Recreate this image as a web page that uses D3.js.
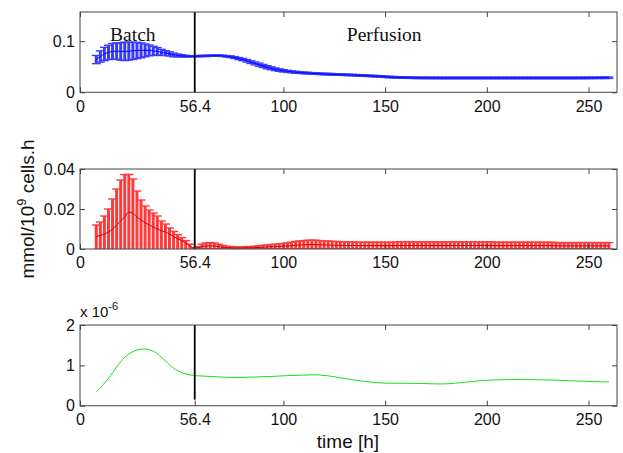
<!DOCTYPE html>
<html><head><meta charset="utf-8">
<script src="https://cdn.jsdelivr.net/npm/d3@7/dist/d3.min.js"></script>
<style>body{margin:0;background:#fff}svg{display:block}</style>
</head><body><svg id="c" width="623" height="453"></svg>
<script>
// ---- data (time in h) ----
const time = [
  8,10,12,14,16,18,20,22,24,26,
  28,30,32,34,36,38,40,42,44,46,
  48,50,52,54,56,58,60,62,64,66,
  68,70,72,74,76,78,80,82,84,86,
  88,90,92,94,96,98,100,102,104,106,
  108,110,112,114,116,118,120,122,124,126,
  128,130,132,134,136,138,140,142,144,146,
  148,150,152,154,156,158,160,162,164,166,
  168,170,172,174,176,178,180,182,184,186,
  188,190,192,194,196,198,200,202,204,206,
  208,210,212,214,216,218,220,222,224,226,
  228,230,232,234,236,238,240,242,244,246,
  248,250,252,254,256,258,260];
const blueMean = [
  0.064,0.070,0.075,0.078,0.080,0.0805,0.080,0.080,0.0805,0.081,
  0.0818,0.082,0.082,0.082,0.081,0.080,0.078,0.0767,0.075,0.073,
  0.072,0.0712,0.0707,0.0705,0.0705,0.0707,0.071,0.0712,0.0715,0.0717,
  0.0717,0.0713,0.0705,0.0695,0.068,0.066,0.064,0.0615,0.059,0.0565,
  0.054,0.0515,0.049,0.047,0.045,0.0435,0.042,0.041,0.040,0.0393,
  0.0386,0.038,0.0375,0.037,0.0366,0.0362,0.0358,0.0355,0.0352,0.0349,
  0.0346,0.0343,0.034,0.0337,0.0333,0.033,0.0326,0.0322,0.0318,0.0314,
  0.031,0.0304,0.0299,0.0295,0.0292,0.029,0.0288,0.0286,0.0284,0.0283,
  0.0282,0.0282,0.0281,0.0281,0.0281,0.028,0.028,0.028,0.028,0.028,
  0.028,0.028,0.028,0.028,0.028,0.028,0.028,0.028,0.028,0.028,
  0.028,0.028,0.028,0.028,0.028,0.028,0.028,0.028,0.028,0.028,
  0.028,0.028,0.028,0.028,0.028,0.028,0.028,0.028,0.0281,0.0281,
  0.0281,0.0282,0.0282,0.0283,0.0283,0.0284,0.0285];
const blueErr = [
  0.008,0.011,0.013,0.014,0.0155,0.016,0.017,0.018,0.0175,0.0168,
  0.0158,0.0145,0.0125,0.0105,0.009,0.0073,0.006,0.0046,0.004,0.0035,
  0.0028,0.0022,0.0016,0.0011,0.001,0.0011,0.0012,0.0012,0.0012,0.0012,
  0.0012,0.0013,0.0014,0.0016,0.0018,0.002,0.0022,0.0024,0.0026,0.0028,
  0.003,0.003,0.003,0.0028,0.0026,0.0024,0.0022,0.002,0.0019,0.0018,
  0.0017,0.0016,0.0016,0.0015,0.0015,0.0015,0.0015,0.0015,0.0015,0.0015,
  0.0014,0.0014,0.0014,0.0014,0.0014,0.0014,0.0014,0.0014,0.0014,0.0014,
  0.0014,0.0014,0.0014,0.0014,0.0014,0.0014,0.0014,0.0014,0.0014,0.0014,
  0.0014,0.0014,0.0014,0.0014,0.0014,0.0014,0.0014,0.0014,0.0014,0.0014,
  0.0014,0.0014,0.0014,0.0014,0.0014,0.0014,0.0014,0.0014,0.0014,0.0014,
  0.0014,0.0014,0.0014,0.0014,0.0014,0.0014,0.0014,0.0014,0.0014,0.0014,
  0.0014,0.0014,0.0014,0.0014,0.0014,0.0014,0.0014,0.0014,0.0014,0.0014,
  0.0014,0.0014,0.0014,0.0014,0.0014,0.0014,0.0014];
const redMean = [
  0.0062,0.0068,0.0075,0.0085,0.0098,0.012,0.014,0.016,0.0185,0.0178,
  0.016,0.0145,0.0132,0.012,0.011,0.010,0.0092,0.0085,0.0075,0.0062,
  0.0052,0.0042,0.003,0.0017,0.0004,0.0006,0.0012,0.0015,0.0016,0.0015,
  0.0012,0.0009,0.0007,0.0006,0.0005,0.0005,0.0005,0.0006,0.0006,0.0007,
  0.0008,0.0009,0.001,0.0011,0.0012,0.0013,0.0014,0.0015,0.0017,0.0019,
  0.002,0.0021,0.0022,0.0022,0.0022,0.0021,0.002,0.002,0.0019,0.0019,
  0.0018,0.0018,0.0018,0.0018,0.0017,0.0017,0.0017,0.0017,0.0017,0.0017,
  0.0017,0.0017,0.0017,0.0017,0.0018,0.0018,0.0018,0.0018,0.0018,0.0018,
  0.0018,0.0018,0.0018,0.0018,0.0018,0.0018,0.0018,0.0018,0.0018,0.0018,
  0.0018,0.0018,0.0018,0.0018,0.0018,0.0018,0.0018,0.0018,0.0017,0.0017,
  0.0017,0.0017,0.0017,0.0017,0.0017,0.0017,0.0017,0.0017,0.0017,0.0017,
  0.0017,0.0017,0.0017,0.0016,0.0016,0.0016,0.0016,0.0016,0.0016,0.0016,
  0.0016,0.0016,0.0016,0.0016,0.0016,0.0016,0.0016];
// upper error of the red series
const redErrUp = [
  0.0058,0.0067,0.009,0.0115,0.0152,0.018,0.0205,0.0212,0.0188,0.0172,
  0.013,0.010,0.0083,0.0075,0.007,0.0065,0.0048,0.004,0.003,0.0026,
  0.002,0.0015,0.0012,0.0007,0.0002,0.0006,0.0012,0.0015,0.0016,0.0015,
  0.0012,0.0009,0.0007,0.0006,0.0005,0.0005,0.0005,0.0006,0.0006,0.0007,
  0.0008,0.0009,0.001,0.0011,0.0012,0.0013,0.0014,0.0015,0.0017,0.0019,
  0.002,0.0021,0.0022,0.0022,0.0022,0.0021,0.002,0.002,0.0019,0.0019,
  0.0018,0.0018,0.0018,0.0018,0.0017,0.0017,0.0017,0.0017,0.0017,0.0017,
  0.0017,0.0017,0.0017,0.0017,0.0018,0.0018,0.0018,0.0018,0.0018,0.0018,
  0.0018,0.0018,0.0018,0.0018,0.0018,0.0018,0.0018,0.0018,0.0018,0.0018,
  0.0018,0.0018,0.0018,0.0018,0.0018,0.0018,0.0018,0.0018,0.0017,0.0017,
  0.0017,0.0017,0.0017,0.0017,0.0017,0.0017,0.0017,0.0017,0.0017,0.0017,
  0.0017,0.0017,0.0017,0.0016,0.0016,0.0016,0.0016,0.0016,0.0016,0.0016,
  0.0016,0.0016,0.0016,0.0016,0.0016,0.0016,0.0016];
// lower error of the red series (bars reach the baseline)
const redErrLow = [
  0.0065,0.007,0.008,0.009,0.010,0.0125,0.0145,0.0165,0.019,0.0183,
  0.0165,0.015,0.0137,0.0125,0.0115,0.0105,0.0097,0.009,0.008,0.0067,
  0.0057,0.0047,0.0035,0.0022,0.0005,0.0006,0.0012,0.0015,0.0016,0.0015,
  0.0012,0.0009,0.0007,0.0006,0.0005,0.0005,0.0005,0.0006,0.0006,0.0007,
  0.0008,0.0009,0.001,0.0011,0.0012,0.0013,0.0014,0.0015,0.0017,0.0019,
  0.002,0.0021,0.0022,0.0022,0.0022,0.0021,0.002,0.002,0.0019,0.0019,
  0.0018,0.0018,0.0018,0.0018,0.0017,0.0017,0.0017,0.0017,0.0017,0.0017,
  0.0017,0.0017,0.0017,0.0017,0.0018,0.0018,0.0018,0.0018,0.0018,0.0018,
  0.0018,0.0018,0.0018,0.0018,0.0018,0.0018,0.0018,0.0018,0.0018,0.0018,
  0.0018,0.0018,0.0018,0.0018,0.0018,0.0018,0.0018,0.0018,0.0017,0.0017,
  0.0017,0.0017,0.0017,0.0017,0.0017,0.0017,0.0017,0.0017,0.0017,0.0017,
  0.0017,0.0017,0.0017,0.0016,0.0016,0.0016,0.0016,0.0016,0.0016,0.0016,
  0.0016,0.0016,0.0016,0.0016,0.0016,0.0016,0.0016];
// green series in units of 1e-6
const greenMean = [
  0.34,0.44,0.56,0.68,0.82,0.96,1.09,1.20,1.28,1.34,
  1.38,1.40,1.405,1.39,1.35,1.29,1.20,1.11,1.01,0.93,
  0.87,0.82,0.785,0.765,0.75,0.74,0.735,0.73,0.725,0.72,
  0.715,0.71,0.705,0.70,0.70,0.70,0.70,0.705,0.71,0.71,
  0.715,0.72,0.72,0.725,0.73,0.735,0.74,0.745,0.75,0.75,
  0.755,0.76,0.76,0.765,0.765,0.76,0.75,0.74,0.725,0.71,
  0.69,0.675,0.66,0.645,0.63,0.615,0.60,0.59,0.58,0.57,
  0.565,0.56,0.558,0.557,0.556,0.555,0.555,0.554,0.553,0.552,
  0.55,0.548,0.545,0.542,0.54,0.54,0.542,0.548,0.555,0.565,
  0.575,0.585,0.595,0.605,0.615,0.622,0.628,0.634,0.638,0.642,
  0.645,0.647,0.648,0.648,0.648,0.647,0.646,0.645,0.644,0.642,
  0.64,0.638,0.635,0.632,0.629,0.625,0.62,0.616,0.612,0.608,
  0.605,0.602,0.599,0.596,0.594,0.592,0.59];
const xTicks = [0, 56.4, 100, 150, 200, 250];
const xTickLabels = ["0", "56.4", "100", "150", "200", "250"];
const phaseSwitch = 56.4;
const yTicks1 = [0, 0.1], yLabels1 = ["0", "0.1"];
const yTicks2 = [0, 0.02, 0.04], yLabels2 = ["0", "0.02", "0.04"];
const yTicks3 = [0, 1, 2], yLabels3 = ["0", "1", "2"];

// ---- drawing ----
const svg = d3.select("#c");
svg.append("rect").attr("width",623).attr("height",453).attr("fill","#fff");
const x = d3.scaleLinear().domain([0, 264]).range([80, 617]);
const FONT = "'Liberation Sans', Arial, Helvetica, sans-serif";
const SERIF = "'Liberation Serif', 'Times New Roman', serif";

const panels = [
  {top:12, bottom:92.3, dom:[0,0.157], ticks:yTicks1, labels:yLabels1, mean:blueMean, eUp:blueErr, eLo:blueErr,
   barColor:"#1a1aff", barW:3, barOp:0.85, lineColor:"#0000ff", vlo:0},
  {top:169, bottom:249, dom:[0,0.04], ticks:yTicks2, labels:yLabels2, mean:redMean, eUp:redErrUp, eLo:redErrLow,
   barColor:"#ff1010", barW:3, barOp:0.82, lineColor:"#d00000", vlo:0},
  {top:325, bottom:405.7, dom:[0,2], ticks:yTicks3, labels:yLabels3, mean:greenMean, eUp:null, eLo:null,
   lineColor:"#10e010", vlo:0.15}
];

panels.forEach((p, i) => {
  const y = d3.scaleLinear().domain(p.dom).range([p.bottom, p.top]);
  const g = svg.append("g");
  const cid = "clip" + i;
  svg.append("clipPath").attr("id", cid).append("rect")
    .attr("x", 80).attr("y", p.top).attr("width", 617 - 80).attr("height", p.bottom - p.top);
  const data = time.map((t, k) => ({t, m: p.mean[k], u: p.eUp ? p.eUp[k] : 0, l: p.eLo ? p.eLo[k] : 0}));
  const plot = g.append("g").attr("clip-path", `url(#${cid})`);
  if (p.eUp) {
    const eb = plot.append("g").attr("stroke", p.barColor).attr("opacity", p.barOp);
    eb.selectAll("line.v").data(data).join("line").attr("class","v")
      .attr("stroke-width", p.barW)
      .attr("x1", d => x(d.t)).attr("x2", d => x(d.t))
      .attr("y1", d => y(d.m - d.l)).attr("y2", d => y(d.m + d.u));
    eb.selectAll("line.cu").data(data).join("line").attr("class","cu")
      .attr("stroke-width", 1.4)
      .attr("x1", d => x(d.t) - 4.5).attr("x2", d => x(d.t) + 4.5)
      .attr("y1", d => y(d.m + d.u)).attr("y2", d => y(d.m + d.u));
    eb.selectAll("line.cl").data(data).join("line").attr("class","cl")
      .attr("stroke-width", 1.4)
      .attr("x1", d => x(d.t) - 4.5).attr("x2", d => x(d.t) + 4.5)
      .attr("y1", d => y(d.m - d.l)).attr("y2", d => y(d.m - d.l));
  }
  plot.append("path").datum(data)
    .attr("fill", "none").attr("stroke", p.lineColor).attr("stroke-width", 1)
    .attr("d", d3.line().x(d => x(d.t)).y(d => y(d.m)).curve(d3.curveMonotoneX));

  // vertical phase line
  g.append("line").attr("x1", x(phaseSwitch)).attr("x2", x(phaseSwitch))
    .attr("y1", y(p.vlo)).attr("y2", p.top)
    .attr("stroke", "#000").attr("stroke-width", 1.8);

  // axes
  const ax = (gen, tr) => {
    const a = g.append("g").attr("transform", tr).call(gen);
    a.select(".domain").remove();
    a.selectAll("line").attr("stroke", "#444");
    a.selectAll("text").attr("font-family", FONT).attr("font-size", 16).attr("fill", "#111");
    return a;
  };
  ax(d3.axisBottom(x).tickValues(xTicks).tickSize(-5).tickPadding(8)
      .tickFormat((d, k) => xTickLabels[k]), `translate(0,${p.bottom})`);
  ax(d3.axisTop(x).tickValues(xTicks).tickSize(-5).tickFormat(""), `translate(0,${p.top})`);
  ax(d3.axisLeft(y).tickValues(p.ticks).tickSize(-5).tickPadding(5)
      .tickFormat((d, k) => p.labels[k]), `translate(80,0)`);
  ax(d3.axisRight(y).tickValues(p.ticks).tickSize(-5).tickFormat(""), `translate(617,0)`);
  g.append("rect").attr("x", 80).attr("y", p.top).attr("width", 537).attr("height", p.bottom - p.top)
    .attr("fill", "none").attr("stroke", "#444").attr("stroke-width", 1);

  if (i === 0) {
    g.append("text").attr("x", x(14.8)).attr("y", y(0.1)).text("Batch")
      .attr("font-family", SERIF).attr("font-size", 19.5).attr("fill", "#111");
    g.append("text").attr("x", x(131.2)).attr("y", y(0.1)).text("Perfusion")
      .attr("font-family", SERIF).attr("font-size", 19.5).attr("fill", "#111");
  }
  if (i === 2) {
    const t = g.append("text").attr("x", 80).attr("y", 317)
      .attr("font-family", FONT).attr("font-size", 15).attr("fill", "#111");
    t.append("tspan").text("x 10");
    t.append("tspan").attr("dy", -7).attr("font-size", 11).text("-6");
  }
});

// axis titles
svg.append("text").attr("x", 348).attr("y", 448).attr("text-anchor", "middle")
  .attr("font-family", FONT).attr("font-size", 19).attr("fill", "#111").text("time [h]");
const yl = svg.append("text").attr("transform", "translate(33.5,209) rotate(-90)")
  .attr("text-anchor", "middle").attr("font-family", FONT).attr("font-size", 19).attr("fill", "#111");
yl.append("tspan").text("mmol/10");
yl.append("tspan").attr("dy", -8).attr("font-size", 13).text("9");
yl.append("tspan").attr("dy", 8).text(" cells.h");
</script></body></html>
